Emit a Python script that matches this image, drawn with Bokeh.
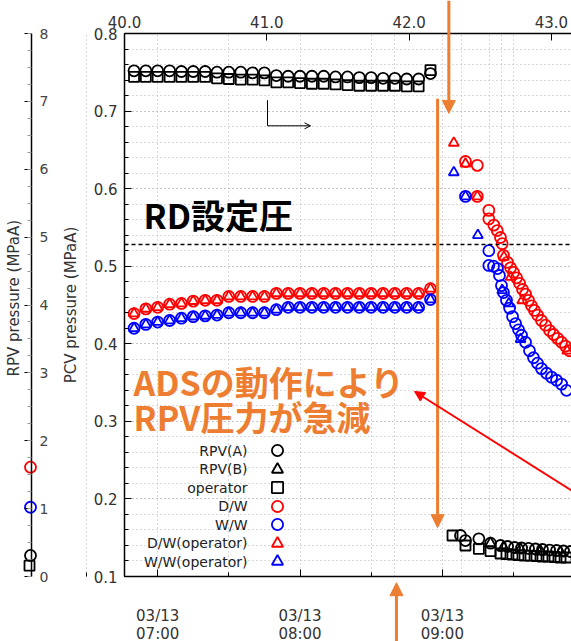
from bokeh.plotting import figure
from bokeh.models import (Range1d, LinearAxis, FixedTicker, SingleIntervalTicker, Grid,
                          PrintfTickFormatter, Label, LabelSet, Arrow, NormalHead,
                          OpenHead, Legend, LegendItem, ColumnDataSource)
from bokeh.core.properties import value
from bokeh.layouts import row
from bokeh.embed import file_html
from bokeh.resources import INLINE

# ---------------- data ----------------
# x = hours after the earthquake (03/11 14:46), the unit of the top axis
t_flat = [40.067, 40.150, 40.233, 40.317, 40.400, 40.483, 40.567, 40.650, 40.733,
          40.817, 40.900, 40.983, 41.067, 41.150, 41.233, 41.317, 41.400, 41.483,
          41.567, 41.650, 41.733, 41.817, 41.900, 41.983, 42.067, 42.150]
# RPV pressure (MPaA) before ADS
rpv_a_flat = [7.45, 7.45, 7.45, 7.45, 7.44, 7.44, 7.44, 7.43, 7.43, 7.43, 7.42, 7.42, 7.38,
              7.37, 7.37, 7.37, 7.37, 7.36, 7.36, 7.35, 7.35, 7.34, 7.34, 7.33, 7.33, 7.41]
oper_flat = [7.36, 7.36, 7.36, 7.36, 7.36, 7.36, 7.36, 7.34, 7.33, 7.32, 7.32, 7.31, 7.28,
             7.28, 7.27, 7.26, 7.26, 7.25, 7.24, 7.23, 7.23, 7.23, 7.23, 7.22, 7.22, 7.46]
# PCV pressure (MPaA) before ADS
dw_flat = [0.439, 0.445, 0.447, 0.451, 0.452, 0.455, 0.456, 0.456, 0.461, 0.461, 0.461, 0.461,
           0.465, 0.465, 0.465, 0.465, 0.465, 0.465, 0.465, 0.465, 0.465, 0.465, 0.465, 0.465,
           0.465, 0.471]
ww_flat = [0.420, 0.425, 0.428, 0.430, 0.433, 0.435, 0.436, 0.437, 0.440, 0.440, 0.440, 0.440,
           0.444, 0.447, 0.447, 0.447, 0.447, 0.447, 0.447, 0.447, 0.447, 0.447, 0.447, 0.447,
           0.447, 0.457]
dwop_flat = list(dw_flat)
wwop_flat = list(ww_flat)

# after ADS: RPV (MPaA)
t_rpva_post = [42.361, 42.396, 42.490, 42.572, 42.642, 42.692, 42.741, 42.790, 42.839, 42.888,
               42.937, 42.987, 43.036, 43.085, 43.134]
rpva_post = [0.604, 0.530, 0.555, 0.491, 0.457, 0.442, 0.427, 0.420, 0.413, 0.405, 0.398,
             0.390, 0.383, 0.376, 0.368]
t_oper_post = [42.305, 42.396, 42.490, 42.572, 42.642, 42.684, 42.726, 42.768, 42.811, 42.853,
               42.895, 42.937, 42.979, 43.022, 43.064, 43.106]
oper_post = [0.604, 0.457, 0.408, 0.373, 0.339, 0.331, 0.324, 0.316, 0.309, 0.309, 0.302,
             0.295, 0.295, 0.287, 0.280, 0.280]
t_rpvb_post = [42.572, 42.663, 42.783, 42.923, 43.064]
rpvb_post = [0.486, 0.427, 0.398, 0.368, 0.354]

# after ADS: PCV (MPaA)
t_dw_post = [42.396, 42.479, 42.479, 42.560, 42.560, 42.595, 42.619, 42.642, 42.654, 42.663,
             42.691, 42.713, 42.734, 42.755, 42.776, 42.797, 42.818, 42.839, 42.860, 42.881,
             42.902, 42.930, 42.959, 42.987, 43.015, 43.043, 43.071, 43.099, 43.127]
dw_post = [0.635, 0.630, 0.590, 0.572, 0.561, 0.553, 0.546, 0.537, 0.529, 0.514, 0.505, 0.498,
           0.492, 0.485, 0.478, 0.470, 0.464, 0.456, 0.449, 0.443, 0.437, 0.430, 0.424, 0.417,
           0.412, 0.407, 0.402, 0.397, 0.391]
t_ww_post = [42.396, 42.560, 42.560, 42.593, 42.621, 42.635, 42.649, 42.663, 42.684, 42.706,
             42.727, 42.748, 42.769, 42.790, 42.818, 42.846, 42.874, 42.902, 42.930, 42.966,
             43.001, 43.036, 43.071, 43.106]
ww_post = [0.590, 0.520, 0.501, 0.500, 0.497, 0.488, 0.475, 0.466, 0.456, 0.446, 0.435, 0.426,
           0.418, 0.411, 0.402, 0.391, 0.382, 0.375, 0.368, 0.362, 0.357, 0.353, 0.348, 0.340]
t_dwop_post = [42.314, 42.396, 42.479, 42.666, 42.713, 42.795, 43.111]
dwop_post = [0.659, 0.632, 0.590, 0.512, 0.486, 0.456, 0.391]
t_wwop_post = [42.314, 42.396, 42.483, 42.654, 42.701, 42.783]
wwop_post = [0.621, 0.590, 0.540, 0.469, 0.452, 0.406]

# readings marked on the RPV axis (MPaA)
axis_mark_vals = [1.61, 1.02, 0.31]
axis_mark_colors = ["red", "blue", "black"]
axis_square_vals = [0.16]

rd_pressure = 0.528  # RD set pressure (MPaA)

legend_labels = ["RPV(A)", "RPV(B)", "operator", "D/W", "W/W", "D/W(operator)", "W/W(operator)"]

hour_tick_clock = ["07:00", "08:00", "09:00", "10:00"]
hour_tick_labels = ["03/13\n07:00", "03/13\n08:00", "03/13\n09:00", "03/13\n10:00"]
half_tick_clock = ["06:30", "07:30", "08:30", "09:30"]
event_clock = ["08:40", "09:08", "09:20", "09:25"]
top_ticks = [40.0, 41.0, 42.0, 43.0]


def quake_hours(clock):
    hh, mm = clock.split(":")
    return 40.0 + (int(hh) * 60 + int(mm) - (6 * 60 + 46)) / 60.0


ORANGE = "#ED7D31"
GRID = "#b4b4b4"
FONT = "DejaVu Sans"
JP = "Noto Sans CJK JP"

# ---------------- layout geometry ----------------
H = 641
A_W = 60
B_W = 511
B_LEFT = 64                          # px from the left of the main canvas to the plot box
PLOT_TOP, PLOT_BOTTOM = 33, 576      # pixel rows of PCV 0.8 and 0.1
X0, X1 = 40.0, 43.141
Y0, Y1 = 0.1, 0.8
px_x = (B_W - B_LEFT) / (X1 - X0)
px_y = (PLOT_BOTTOM - PLOT_TOP) / (Y1 - Y0)
# the frame covers the whole canvas, so arrows and labels may run outside the plot box
XE0 = X0 - B_LEFT / px_x
YE0 = Y0 - (H - PLOT_BOTTOM) / px_y
YE1 = Y1 + PLOT_TOP / px_y
px_rpv = (PLOT_BOTTOM - PLOT_TOP) / 8.0
RE0 = 0 - (H - PLOT_BOTTOM) / px_rpv
RE1 = 8 + PLOT_TOP / px_rpv

# ---------------- main figure ----------------
p = figure(width=B_W, height=H, x_range=Range1d(XE0, X1), y_range=Range1d(YE0, YE1),
           output_backend="svg", toolbar_location=None, min_border_left=0,
           min_border_right=0, min_border_top=0, min_border_bottom=0,
           outline_line_color=None, background_fill_color="white", border_fill_color="white")
p.extra_y_ranges = {"rpv": Range1d(RE0, RE1)}

hour_ticks = [quake_hours(c) for c in hour_tick_clock]
half_ticks = [quake_hours(c) for c in half_tick_clock]

xb = p.xaxis[0]
xb.fixed_location = Y0
xb.bounds = (X0, X1)
xb.ticker = FixedTicker(ticks=hour_ticks, minor_ticks=half_ticks)
xb.major_label_overrides = {t: lab for t, lab in zip(hour_ticks, hour_tick_labels)}
xb.major_label_standoff = 30
xb.major_label_text_line_height = 1.0

yl = p.yaxis[0]
yl.fixed_location = X0
yl.bounds = (Y0, Y1)
yl.ticker = SingleIntervalTicker(interval=0.1, num_minor_ticks=5)
yl.formatter = PrintfTickFormatter(format="%.1f")
yl.axis_label = "PCV pressure (MPaA)"
yl.axis_label_standoff = 11
yl.major_label_standoff = 7

xt = LinearAxis(fixed_location=Y1, bounds=(X0, X1), ticker=FixedTicker(ticks=top_ticks),
                formatter=PrintfTickFormatter(format="%.1f"))
xt.major_label_standoff = 6
p.add_layout(xt, "above")

for ax in (xb, yl, xt):
    ax.axis_line_color = "black"
    ax.axis_line_width = 1.5
    ax.major_tick_in = 7
    ax.major_tick_out = 0
    ax.minor_tick_in = 4
    ax.minor_tick_out = 0
    ax.major_tick_line_color = "black"
    ax.minor_tick_line_color = "black"
    ax.major_label_text_font = FONT
    ax.major_label_text_font_size = "15px"
    ax.major_label_text_color = "#333333"
    ax.axis_label_text_font = FONT
    ax.axis_label_text_font_size = "15px"
    ax.axis_label_text_font_style = "normal"
    ax.axis_label_text_color = "#333333"
xt.minor_tick_line_color = None

GRID_STYLE = dict(grid_line_color=GRID, grid_line_dash="1 3", grid_line_width=1,
                  minor_grid_line_color=GRID, minor_grid_line_dash="1 3", minor_grid_line_width=1)

yg = p.ygrid[0]
yg.ticker = yl.ticker
yg.bounds = (Y0, Y1)
yg.update(**GRID_STYLE)

xg = p.xgrid[0]
xg.ticker = xb.ticker
xg.bounds = (X0, X1)
xg.update(**GRID_STYLE)
ev_grid = Grid(dimension=0, ticker=FixedTicker(ticks=[quake_hours(c) for c in event_clock]),
               **GRID_STYLE)
p.add_layout(ev_grid)

try:
    xg.cross_bounds = (Y0, Y1)
    ev_grid.cross_bounds = (Y0, Y1)
    yg.cross_bounds = (X0, X1)
except Exception:
    # Bokeh without cross bounds: grid lines drawn as segments over the plot box
    xg.visible = False
    ev_grid.visible = False
    yg.visible = False
    vx = hour_ticks + half_ticks + [quake_hours(c) for c in event_clock]
    p.segment(x0=vx, y0=[Y0] * len(vx), x1=vx, y1=[Y1] * len(vx), line_color=GRID,
              line_dash="1 3", line_width=1, level="underlay")
    hy = [round(0.12 + 0.02 * i, 2) for i in range(34)]
    p.segment(x0=[X0] * len(hy), y0=hy, x1=[X1] * len(hy), y1=hy, line_color=GRID,
              line_dash="1 3", line_width=1, level="underlay")

# RD set pressure line, limited to the plot box
p.add_layout(Arrow(x_start=X0, y_start=rd_pressure, x_end=X1, y_end=rd_pressure, end=None,
                   line_color="black", line_dash="4 3", line_width=1.5))

MS = dict(fill_color=None, line_width=1.8)
r_rpva = p.scatter(t_flat + t_rpva_post, rpv_a_flat + rpva_post, marker="circle", size=11,
                   line_color="black", y_range_name="rpv", **MS)
r_rpvb = p.scatter(t_rpvb_post, rpvb_post, marker="triangle", size=11,
                   line_color="black", y_range_name="rpv", **MS)
r_oper = p.scatter(t_flat + t_oper_post, oper_flat + oper_post, marker="square", size=10,
                   line_color="black", y_range_name="rpv", **MS)
r_dw = p.scatter(t_flat + t_dw_post, dw_flat + dw_post, marker="circle", size=11,
                 line_color="red", **MS)
r_ww = p.scatter(t_flat + t_ww_post, ww_flat + ww_post, marker="circle", size=11,
                 line_color="blue", **MS)
r_dwop = p.scatter(t_flat + t_dwop_post, dwop_flat + dwop_post, marker="triangle", size=10,
                   line_color="red", **MS)
r_wwop = p.scatter(t_flat + t_wwop_post, wwop_flat + wwop_post, marker="triangle", size=10,
                   line_color="blue", **MS)

# legend: symbols to the right of the names, as in the original
LEG_GLYPH_X = B_LEFT + 139    # px from canvas left to the symbol box
LEG_TEXT_X = B_LEFT + 123     # px from canvas left to the right end of the names
LEG_FIRST = 450               # pixel row of the first entry
LEG_PITCH = 18.5
renderers = [r_rpva, r_rpvb, r_oper, r_dw, r_ww, r_dwop, r_wwop]
row_y = [H - (LEG_FIRST + i * LEG_PITCH) for i in range(len(renderers))]
for r, yc in zip(renderers, row_y):
    p.add_layout(Legend(items=[LegendItem(label=value(" "), renderers=[r])],
                        location=(LEG_GLYPH_X, yc - 14), glyph_width=28, glyph_height=28,
                        label_height=28, label_width=1, label_standoff=0, padding=0, margin=0,
                        background_fill_alpha=0, border_line_color=None,
                        label_text_font_size="1px"))
p.add_layout(LabelSet(x="x", y="y", text="text", x_units="screen", y_units="screen",
                      source=ColumnDataSource(dict(x=[LEG_TEXT_X] * len(legend_labels),
                                                   y=row_y, text=legend_labels)),
                      text_align="right", text_baseline="middle", text_font=value(FONT),
                      text_font_size="14px", text_color="#222222"))

# annotations
p.add_layout(Label(x=40.134, y=0.567, text="RD設定圧", text_font=JP, text_font_style="bold",
                   text_font_size="34px", text_color="black", text_baseline="middle"))
p.add_layout(Label(x=40.063, y=0.352, text="ADSの動作により", text_font=JP,
                   text_font_style="bold", text_font_size="34px", text_color=ORANGE,
                   text_baseline="middle"))
p.add_layout(Label(x=40.063, y=0.306, text="RPV圧力が急減", text_font=JP,
                   text_font_style="bold", text_font_size="34px", text_color=ORANGE,
                   text_baseline="middle"))


def ohead():
    return NormalHead(size=13, fill_color=ORANGE, line_color=ORANGE)


p.add_layout(Arrow(x_start=42.279, y_start=YE1, x_end=42.279, y_end=0.697, end=ohead(),
                   line_color=ORANGE, line_width=3))
p.add_layout(Arrow(x_start=42.200, y_start=0.716, x_end=42.200, y_end=0.163, end=ohead(),
                   line_color=ORANGE, line_width=3))
p.add_layout(Arrow(x_start=41.911, y_start=YE0, x_end=41.911, y_end=0.092, end=ohead(),
                   line_color=ORANGE, line_width=3))
p.add_layout(Arrow(x_start=43.141, y_start=0.211, x_end=42.038, y_end=0.3385,
                   end=NormalHead(size=10, fill_color="red", line_color="red"),
                   line_color="red", line_width=2))
p.add_layout(Arrow(x_start=41.005, y_start=0.714, x_end=41.005, y_end=0.681, end=None,
                   line_color="black", line_width=1))
p.add_layout(Arrow(x_start=41.005, y_start=0.681, x_end=41.307, y_end=0.681,
                   end=OpenHead(size=6, line_color="black", line_width=1),
                   line_color="black", line_width=1))

# ---------------- RPV axis strip ----------------
rpv_axis_x = 31
pa = figure(width=A_W, height=H, x_range=Range1d(0, A_W), y_range=Range1d(RE0, RE1),
            x_axis_type=None, y_axis_type=None, output_backend="svg", toolbar_location=None,
            min_border_left=0, min_border_right=0, min_border_top=0, min_border_bottom=0,
            outline_line_color=None, background_fill_color="white", border_fill_color="white")
pa.grid.visible = False
ra = LinearAxis(fixed_location=rpv_axis_x, bounds=(0, 8),
                ticker=SingleIntervalTicker(interval=1, num_minor_ticks=4))
ra.axis_line_color = "black"
ra.axis_line_width = 1.5
ra.major_tick_in = 7
ra.major_tick_out = 0
ra.minor_tick_in = 4
ra.minor_tick_out = 0
ra.major_tick_line_color = "black"
ra.minor_tick_line_color = "#999999"
ra.major_label_standoff = 8
ra.major_label_text_font = FONT
ra.major_label_text_font_size = "14px"
ra.major_label_text_color = "#444444"
pa.add_layout(ra, "right")
pa.scatter([rpv_axis_x - 1] * len(axis_mark_vals), axis_mark_vals, marker="circle", size=11,
           fill_color=None, line_color=axis_mark_colors, line_width=1.8)
pa.scatter([rpv_axis_x - 2] * len(axis_square_vals), axis_square_vals, marker="square", size=10,
           fill_color=None, line_color="black", line_width=1.8)
pa.add_layout(Label(x=13, y=4.1, text="RPV pressure (MPaA)", angle=90, angle_units="deg",
                    text_align="center", text_baseline="middle", text_font=FONT,
                    text_font_size="15px", text_color="#333333"))

layout = row(pa, p)
open("out.html", "w").write(file_html(layout, INLINE))
